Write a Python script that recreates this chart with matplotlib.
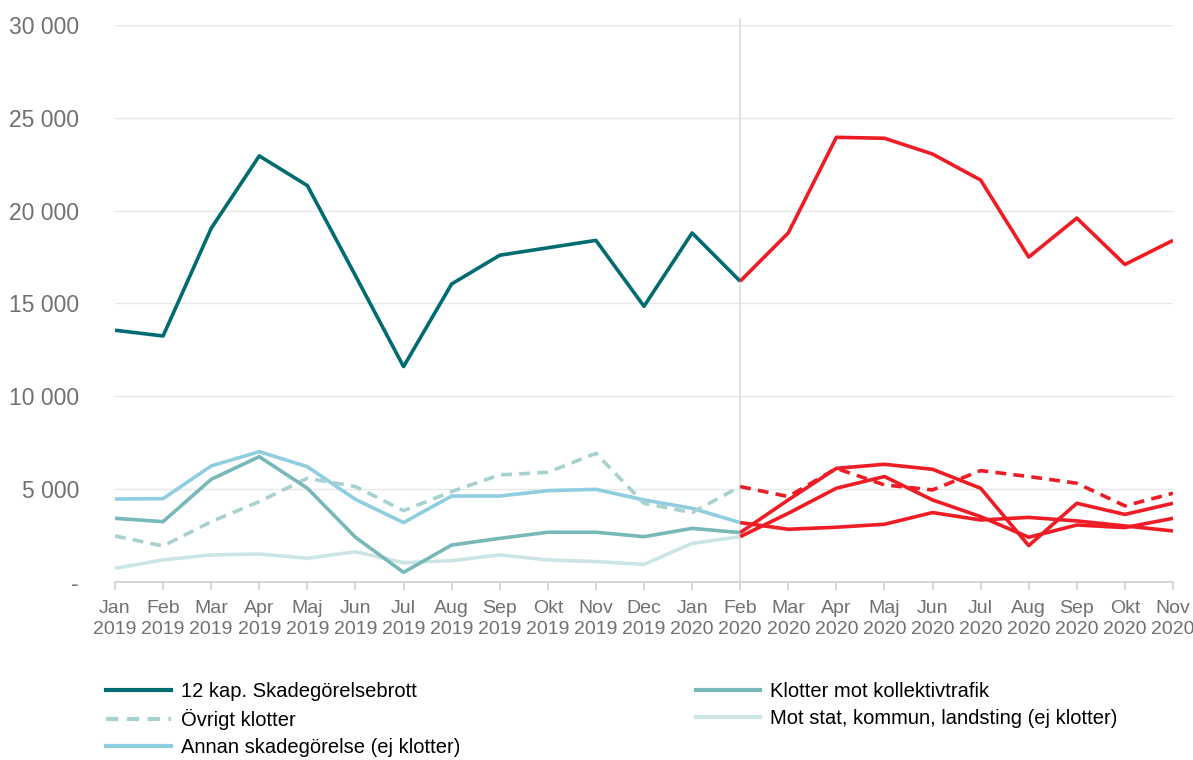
import numpy as np
import matplotlib
matplotlib.use('Agg')
import matplotlib.pyplot as plt
from matplotlib.lines import Line2D
from matplotlib.ticker import FuncFormatter

plt.rcParams['font.family'] = ['Liberation Sans', 'DejaVu Sans']

# months Jan 2019 .. Nov 2020
months = ['Jan', 'Feb', 'Mar', 'Apr', 'Maj', 'Jun', 'Jul', 'Aug', 'Sep', 'Okt', 'Nov', 'Dec',
          'Jan', 'Feb', 'Mar', 'Apr', 'Maj', 'Jun', 'Jul', 'Aug', 'Sep', 'Okt', 'Nov']
years = ['2019'] * 12 + ['2020'] * 11
split = 13  # Feb 2020, where the red part starts

skade = [13560, 13250, 19050, 22950, 21350, 16500, 11600, 16050, 17600, 18000, 18400, 14850,
         18800, 16200, 18800, 23950, 23900, 23050, 21650, 17500, 19600, 17100, 18400]
kollektiv = [3430, 3250, 5530, 6750, 5050, 2410, 520, 1990, 2350, 2680, 2680, 2440,
             2890, 2660, 4420, 6120, 6340, 6070, 5050, 1960, 4240, 3640, 4240]
ovrigt = [2480, 1940, 3250, 4330, 5590, 5140, 3840, 4870, 5770, 5910, 6930, 4240,
          3740, 5140, 4600, 6120, 5230, 4960, 6000, 5680, 5320, 4100, 4780]
mot_stat = [740, 1190, 1460, 1510, 1280, 1630, 1040, 1150, 1460, 1190, 1100, 950,
            2080, 2440, 3700, 5050, 5680, 4420, 3520, 2410, 3070, 2930, 3430]
annan = [4470, 4490, 6250, 7020, 6210, 4450, 3200, 4630, 4630, 4920, 4990, 4420,
         3970, 3200, 2840, 2950, 3110, 3740, 3340, 3480, 3290, 3020, 2750]

names = ['12 kap. Skadegörelsebrott', 'Klotter mot kollektivtrafik', 'Övrigt klotter',
         'Mot stat, kommun, landsting (ej klotter)', 'Annan skadegörelse (ej klotter)']
series = [skade, kollektiv, ovrigt, mot_stat, annan]
colors = ['#006b70', '#79b8b8', '#a7d1cf', '#cbe5e4', '#8fcde0']
styles = ['-', '-', (0, (3, 2)), '-', '-']
red = '#ee1c25'

fig = plt.figure(figsize=(11.93, 7.6), dpi=100)
ax = fig.add_axes([115 / 1193, 1 - 582 / 760, (1173 - 115) / 1193, (582 - 25) / 760])

x = np.arange(len(months))
lw = 2.6
# light series first so the dark one sits on top
for i in [3, 4, 2, 1, 0]:
    ax.plot(x[:split + 1], series[i][:split + 1], color=colors[i], lw=lw,
            linestyle=styles[i], zorder=3 if i else 4, solid_capstyle='butt')
for i in [3, 4, 2, 1, 0]:
    ax.plot(x[split:], series[i][split:], color=red, lw=lw,
            linestyle=styles[i], zorder=5, solid_capstyle='butt')

ax.axvline(split, color='#dddddd', lw=1.2, ymin=0, ymax=1.01, clip_on=False, zorder=2)

ax.set_xlim(0, len(months) - 1)
ax.set_ylim(0, 30000)
ax.set_yticks(np.arange(0, 30001, 5000))
ax.yaxis.set_major_formatter(FuncFormatter(
    lambda v, p: '-' if v == 0 else '{:,.0f}'.format(v).replace(',', ' ')))
ax.set_xticks(x)
ax.set_xticklabels([m + '\n' + y for m, y in zip(months, years)])

ax.grid(axis='y', color='#e8e8e8', lw=1)
ax.set_axisbelow(True)
for s in ['top', 'right', 'left']:
    ax.spines[s].set_visible(False)
ax.spines['bottom'].set_color('#d3d3d3')
ax.spines['bottom'].set_linewidth(1.3)
ax.tick_params(axis='y', length=0, pad=26, labelsize=16.5, labelcolor='#707070')
ax.tick_params(axis='x', length=6, width=1.3, color='#d3d3d3', pad=7,
               labelsize=14, labelcolor='#707070')
for t in ax.get_xticklabels():
    t.set_linespacing(1.3)

# legend in two separate columns
h = [Line2D([], [], color=colors[i], lw=3, linestyle=styles[i]) for i in range(5)]
leg_kw = dict(frameon=False, fontsize=14.5, handlelength=3.2, handletextpad=0.5,
              labelspacing=0.38, loc='upper left')
l1 = fig.legend([h[0], h[2], h[4]], [names[0], names[2], names[4]],
                bbox_to_anchor=(0.074, 0.126), **leg_kw)
l2 = fig.legend([h[1], h[3]], [names[1], names[3]],
                bbox_to_anchor=(0.568, 0.126), **leg_kw)

fig.savefig('out.png', dpi=100)
